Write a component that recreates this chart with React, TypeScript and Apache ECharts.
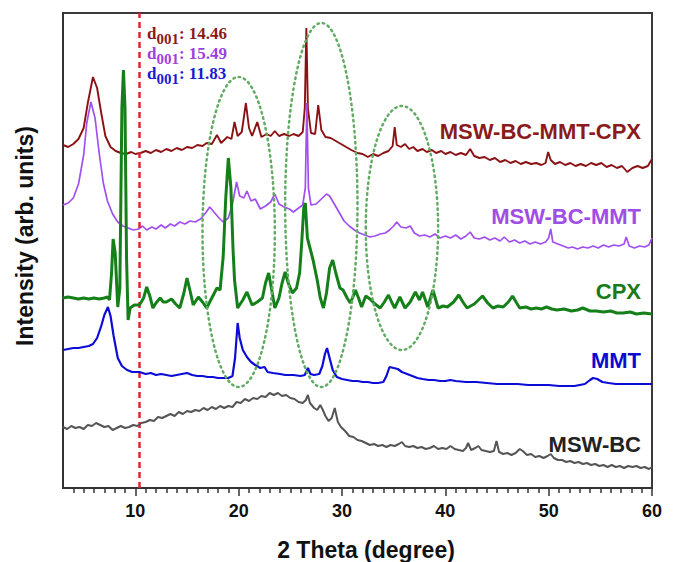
import React, { useEffect, useRef } from "react";
import * as echarts from "echarts";

// 2θ (degree), intensity (arb. units, vertically offset patterns)
const mswBcMmtCpx: number[][] = [
  [3,343],[3.5,341],[4,344],[4.5,349],[5,360],[5.4,385],[5.9,411],[6.3,400],[6.7,375],[7.1,352],[7.6,341],[8.1,337],[8.6,335],[9.1,334],[9.6,336],[10,334],[10.5,335],[11,337],[11.5,335],[12,338],[12.5,336],[13,339],[13.5,337],[14,340],[14.5,338],[15,341],[15.5,340],[16,343],[16.5,342],[16.9,345],[17.4,344],[17.9,353],[18.3,345],[18.9,351],[19.3,349],[19.6,366],[19.9,352],[20.3,356],[20.7,385],[21,360],[21.3,352],[21.8,366],[22.2,351],[22.7,354],[23.1,352],[23.5,357],[23.9,352],[24.4,354],[24.9,352],[25.3,354],[25.8,352],[26.2,356],[26.4,380],[26.55,460],[26.7,380],[27,355],[27.4,354],[27.7,383],[28,358],[28.4,351],[28.9,350],[29.4,347],[29.9,344],[30.4,341],[30.9,338],[31.5,335],[32,334],[32.5,331],[33,334],[33.5,332],[34,335],[34.5,337],[34.9,342],[35.1,361],[35.3,343],[35.7,341],[36.1,344],[36.5,339],[36.9,341],[37.3,337],[37.8,339],[38.2,336],[38.7,338],[39.1,335],[39.6,337],[40,334],[40.5,336],[41,333],[41.5,335],[42,333],[42.4,339],[42.8,332],[43.3,330],[43.8,331],[44.3,328],[44.8,330],[45.3,326],[45.8,328],[46.3,325],[46.8,327],[47.3,324],[47.8,326],[48.3,324],[48.8,325],[49.3,323],[49.7,325],[49.95,336],[50.2,328],[50.6,324],[51.1,326],[51.6,323],[52.1,325],[52.6,322],[53.1,324],[53.6,322],[54.1,325],[54.6,323],[55.1,325],[55.6,321],[56.1,323],[56.6,320],[57.1,322],[57.6,316],[58.1,320],[58.6,322],[59.1,320],[59.6,322],[60,329]
];

const mswBcMmt: number[][] = [
  [3,283],[3.5,285],[4,290],[4.5,304],[5,333],[5.3,365],[5.7,386],[6.1,370],[6.5,335],[6.9,305],[7.3,287],[7.8,274],[8.3,266],[8.8,262],[9.3,260],[9.8,258],[10.3,259],[10.7,262],[11.1,258],[11.6,261],[12,259],[12.5,263],[12.9,260],[13.4,264],[13.8,262],[14.3,266],[14.8,264],[15.3,267],[15.8,266],[16.3,269],[16.8,275],[17.2,281],[17.6,276],[18.1,270],[18.5,266],[19,270],[19.4,284],[19.8,306],[20.1,292],[20.5,290],[20.8,297],[21.2,287],[21.6,289],[22.1,279],[22.6,282],[23.1,286],[23.5,294],[23.9,284],[24.4,281],[24.9,279],[25.3,276],[25.8,280],[26.2,283],[26.45,300],[26.6,385],[26.75,300],[27,283],[27.5,284],[28,289],[28.5,294],[28.8,292],[29.2,285],[29.7,276],[30.2,267],[30.7,262],[31.2,258],[31.7,255],[32.2,253],[32.7,251],[33.2,252],[33.7,254],[34.2,255],[34.6,258],[35,262],[35.3,266],[35.7,261],[36.2,260],[36.6,262],[37,255],[37.5,252],[38,253],[38.5,251],[39,254],[39.5,250],[40,252],[40.5,250],[41,253],[41.5,249],[42,252],[42.4,256],[42.8,250],[43.3,249],[43.8,251],[44.3,248],[44.8,250],[45.3,247],[45.7,251],[46.2,246],[46.7,248],[47.2,245],[47.7,247],[48.2,244],[48.7,246],[49.2,244],[49.7,246],[50,250],[50.2,259],[50.4,246],[50.9,244],[51.4,242],[51.9,240],[52.3,241],[52.8,239],[53.3,241],[53.8,240],[54.3,242],[54.8,240],[55.3,243],[55.8,241],[56.3,243],[56.8,242],[57.3,244],[57.5,251],[57.8,242],[58.3,240],[58.8,242],[59.3,241],[59.7,243],[60,250]
];

const cpx: number[][] = [
  [3,190],[3.5,191],[4,190],[4.5,189],[5,190],[5.5,189],[6,190],[6.5,189],[7,190],[7.3,191],[7.5,188],[7.7,215],[7.85,249],[8.05,235],[8.3,181],[8.5,200],[8.7,380],[8.85,418],[9,380],[9.15,230],[9.3,168],[9.5,180],[9.9,183],[10.4,183],[10.8,190],[11.1,201],[11.4,192],[11.7,180],[12,185],[12.4,190],[12.7,186],[13,186],[13.5,189],[13.9,184],[14.3,180],[14.7,195],[15,210],[15.3,197],[15.6,183],[16.1,191],[16.5,186],[16.9,180],[17.4,190],[17.9,200],[18.2,198],[18.5,231],[18.75,290],[19,330],[19.25,300],[19.45,240],[19.6,208],[19.9,180],[20.4,188],[20.8,196],[21.3,183],[21.8,186],[22.3,190],[22.6,205],[22.9,215],[23.2,198],[23.5,180],[23.9,190],[24.2,205],[24.5,216],[24.8,205],[25.2,195],[25.6,200],[25.9,215],[26.1,245],[26.3,280],[26.45,285],[26.65,250],[26.9,240],[27.2,228],[27.6,208],[27.9,190],[28.2,180],[28.5,195],[28.8,220],[29.1,228],[29.4,215],[29.8,200],[30.1,198],[30.5,190],[30.8,185],[31.1,192],[31.3,198],[31.6,190],[31.9,181],[32.3,192],[32.7,189],[33.2,184],[33.7,180],[34.1,186],[34.5,193],[34.8,186],[35.1,180],[35.6,191],[36.1,180],[36.6,186],[37.1,196],[37.5,188],[37.8,196],[38.3,181],[38.8,198],[39.3,180],[39.8,182],[40.2,181],[40.8,186],[41.3,193],[41.7,186],[42.1,180],[42.8,184],[43.6,192],[44.1,185],[44.6,180],[45.1,182],[45.6,181],[46.1,186],[46.5,192],[46.9,185],[47.2,180],[47.8,181],[48.3,179],[48.8,180],[49.3,179],[49.8,181],[50.3,179],[50.8,178],[51.5,179],[52.2,177],[52.8,178],[53.3,180],[54,177],[54.6,177],[55.3,176],[56,177],[56.6,175],[57.2,175],[57.9,176],[58.5,174],[59.2,175],[60,174]
];

const mmt: number[][] = [
  [3,138],[3.5,139],[4,140],[4.5,140],[5,141],[5.5,142],[5.9,144],[6.3,150],[6.7,162],[7,173],[7.35,181],[7.6,172],[7.9,152],[8.3,130],[8.7,122],[9.2,118],[9.7,116],[10.4,116],[11,114],[11.5,115],[12,113],[12.5,114],[13,113],[13.5,112],[14,113],[14.5,114],[15,115],[15.5,113],[16,112],[16.5,112],[17,111],[17.5,111],[18,110],[18.5,110],[19,110],[19.4,112],[19.65,130],[19.9,165],[20.1,150],[20.4,138],[20.8,131],[21.2,126],[21.6,123],[22.1,120],[22.5,121],[22.8,116],[23.3,115],[24,114],[24.5,113],[25.3,113],[26,112],[26.4,113],[26.7,120],[26.95,114],[27.3,113],[27.8,114],[28.1,122],[28.35,134],[28.55,140],[28.8,130],[29.1,118],[29.5,111],[30,109],[30.5,108],[31,107],[31.5,107],[32,106],[32.5,106],[33,105],[33.5,105],[34,106],[34.3,112],[34.6,121],[35,120],[35.4,119],[35.8,116],[36.3,114],[36.8,112],[37.3,110],[37.8,109],[38.4,108],[38.9,108],[39.5,107],[40,107],[40.5,108],[41,107],[42,106],[43,106],[44,105],[45,104],[46,104],[47,104],[48,103],[49,103],[50,103],[51,102],[52,102],[52.5,102],[53,103],[53.5,104],[54,108],[54.3,110],[54.7,109],[55.2,106],[55.8,105],[56.5,104],[57.5,104],[58.5,104],[59.5,104],[60,104]
];

const mswBc: number[][] = [
  [3,61],[3.4,59],[3.8,62],[4.2,60],[4.6,61],[5,59],[5.4,63],[5.8,62],[6.2,65],[6.6,63],[7,61],[7.4,62],[7.8,58],[8.2,60],[8.6,62],[9,60],[9.4,61],[9.8,63],[10.2,62],[10.6,65],[11,66],[11.4,68],[11.8,67],[12.2,71],[12.6,70],[13,72],[13.4,74],[13.8,72],[14.2,76],[14.6,74],[15,77],[15.4,76],[15.8,78],[16.2,77],[16.6,80],[17,78],[17.4,81],[17.8,79],[18.2,82],[18.6,80],[19,82],[19.4,81],[19.8,86],[20.2,85],[20.6,89],[21,87],[21.4,90],[21.8,89],[22.2,92],[22.6,91],[23,95],[23.4,93],[23.8,95],[24.2,92],[24.6,93],[25,90],[25.4,89],[25.8,86],[26.2,85],[26.5,88],[26.7,93],[26.9,85],[27.3,80],[27.6,78],[27.9,83],[28.1,79],[28.4,72],[28.7,67],[29,70],[29.3,80],[29.6,66],[29.9,61],[30.3,57],[30.7,52],[31.1,51],[31.5,48],[31.9,47],[32.3,45],[32.7,43],[33.1,44],[33.5,42],[33.9,43],[34.3,41],[34.7,43],[35.1,42],[35.5,44],[35.8,46],[36.1,42],[36.5,41],[36.9,42],[37.3,40],[37.7,41],[38.1,39],[38.5,40],[38.9,42],[39.3,39],[39.7,40],[40.1,39],[40.5,42],[40.9,39],[41.3,38],[41.7,37],[42,40],[42.2,45],[42.5,38],[42.9,40],[43.2,42],[43.5,38],[43.9,37],[44.3,36],[44.7,37],[44.95,47],[45.2,36],[45.6,34],[46,35],[46.4,33],[46.8,35],[47.2,39],[47.5,37],[47.9,33],[48.3,34],[48.7,31],[49.1,32],[49.5,30],[49.9,32],[50.2,34],[50.5,30],[50.9,28],[51.3,28],[51.7,26],[52.1,27],[52.5,25],[52.9,26],[53.3,24],[53.7,25],[54.1,23],[54.5,24],[54.9,22],[55.3,23],[55.7,21],[56.1,23],[56.5,21],[56.9,22],[57.3,20],[57.7,22],[58.1,21],[58.5,22],[58.9,20],[59.3,21],[59.7,19],[60,21]
];

// highlighted regions: [center 2θ, center intensity, half-width 2θ, half-height intensity]
const highlightRegions: number[][] = [
  [20.0, 256, 3.5, 155],
  [28.0, 283, 3.5, 182],
  [35.8, 260, 3.5, 122],
];

const d001Line = 10.4;
const majorTicks = [10, 20, 30, 40, 50, 60];
const minorTicks = [4,5,6,7,8,9,11,12,13,14,15,16,17,18,19,21,22,23,24,25,26,27,28,29,31,32,33,34,35,36,37,38,39,41,42,43,44,45,46,47,48,49,51,52,53,54,55,56,57,58,59];

const seriesNames = ["MSW-BC-MMT-CPX", "MSW-BC-MMT", "CPX", "MMT", "MSW-BC"];
const seriesColors = ["#8b1214", "#a24ff0", "#15801a", "#0c0cd6", "#555555"];
const labelColors = ["#8b1a1a", "#a04de6", "#1a7a1a", "#0b0bd0", "#222222"];
const d001Texts = ["14.46", "15.49", "11.83"];
const d001Colors = ["#8b1a1a", "#a03fdc", "#1b1bd0"];

const SANS = '"Liberation Sans", Arial, sans-serif';
const SERIF = '"Liberation Serif", "Times New Roman", serif';

export default function App() {
  const ref = useRef<HTMLDivElement>(null);
  useEffect(() => {
    if (!ref.current) return;
    const chart = echarts.init(ref.current, null, { renderer: "svg" });
    const datasets = [mswBcMmtCpx, mswBcMmt, cpx, mmt, mswBc];
    const widths = [1.9, 1.7, 3, 2.2, 2];

    const lineSeries: any[] = datasets.map((d, i) => ({
      type: "line",
      name: seriesNames[i],
      data: d,
      showSymbol: false,
      symbol: "none",
      lineStyle: { color: seriesColors[i], width: widths[i] },
      z: 3 + i,
      ...(i === 0
        ? {
            markLine: {
              silent: true,
              symbol: ["none", "none"],
              label: { show: false },
              lineStyle: { color: "#e0242a", type: [6, 4], width: 2.5 },
              data: [{ xAxis: d001Line }],
            },
          }
        : {}),
    }));

    const ellipseSeries = {
      type: "custom",
      data: highlightRegions,
      clip: false,
      z: 10,
      renderItem: (params: any, api: any) => {
        const c = api.coord([api.value(0), api.value(1)]);
        const s = api.size([api.value(2), api.value(3)]);
        return {
          type: "ellipse",
          shape: { cx: c[0], cy: c[1], rx: s[0], ry: s[1] },
          style: { fill: "none", stroke: "#62ab62", lineWidth: 2.5, lineDash: [1.5, 4], lineCap: "round" },
        };
      },
    };

    const labelY = [131, 216, 291, 360, 444];
    const graphics: any[] = seriesNames.map((n, i) => ({
      type: "text",
      x: 641,
      y: labelY[i],
      style: {
        text: n,
        font: `bold 22px ${SANS}`,
        fill: labelColors[i],
        align: "right",
        verticalAlign: "middle",
      },
    }));
    d001Texts.forEach((t, i) => {
      graphics.push({
        type: "text",
        x: 147,
        y: 46 + i * 20,
        style: {
          text: `{d|d}{s|001}{n|: ${t}}`,
          fill: d001Colors[i],
          verticalAlign: "bottom",
          rich: {
            d: { fontSize: 17, fontWeight: "bold", fontFamily: SERIF, fill: d001Colors[i], verticalAlign: "bottom", padding: [0, 0, 4, 0] },
            s: { fontSize: 15, fontWeight: "bold", fontFamily: SERIF, fill: d001Colors[i], verticalAlign: "bottom" },
            n: { fontSize: 17, fontWeight: "bold", fontFamily: SERIF, fill: d001Colors[i], verticalAlign: "bottom", padding: [0, 0, 4, 0] },
          },
        },
      });
    });
    graphics.push({
      type: "text",
      x: 25,
      y: 236,
      rotation: Math.PI / 2,
      style: {
        text: "Intensity (arb. units)",
        font: `bold 23px ${SANS}`,
        fill: "#111",
        align: "center",
        verticalAlign: "middle",
      },
    });
    graphics.push({
      type: "text",
      x: 366,
      y: 550,
      style: {
        text: "2 Theta (degree)",
        font: `bold 23px ${SANS}`,
        fill: "#111",
        align: "center",
        verticalAlign: "middle",
      },
    });

    chart.setOption({
      animation: false,
      backgroundColor: "#ffffff",
      grid: {
        left: 63,
        right: 21,
        top: 13,
        bottom: 74,
        show: true,
        borderColor: "#3a3a3a",
        borderWidth: 2,
      },
      xAxis: [
        {
          type: "value",
          min: 3,
          max: 60,
          axisLine: { show: true, lineStyle: { color: "#333", width: 2 } },
          axisTick: { show: true, customValues: majorTicks, length: 8, lineStyle: { color: "#333", width: 1.5 } },
          axisLabel: {
            show: true,
            customValues: majorTicks,
            fontSize: 18,
            fontWeight: "bold",
            fontFamily: SANS,
            color: "#111",
            margin: 14,
          },
          splitLine: { show: false },
        },
        {
          type: "value",
          min: 3,
          max: 60,
          position: "bottom",
          axisLine: { show: false },
          axisTick: { show: true, customValues: minorTicks, length: 5, lineStyle: { color: "#333", width: 1.5 } },
          axisLabel: { show: false },
          splitLine: { show: false },
        },
      ],
      yAxis: {
        type: "value",
        min: 0,
        max: 475,
        axisLine: { show: true, lineStyle: { color: "#333", width: 2 } },
        axisTick: { show: false },
        axisLabel: { show: false },
        splitLine: { show: false },
      },
      series: [...lineSeries, ellipseSeries],
      graphic: graphics,
    });
    return () => chart.dispose();
  }, []);
  return <div ref={ref} style={{ width: 673, height: 562, position: "absolute", left: 0, top: 0 }} />;
}
